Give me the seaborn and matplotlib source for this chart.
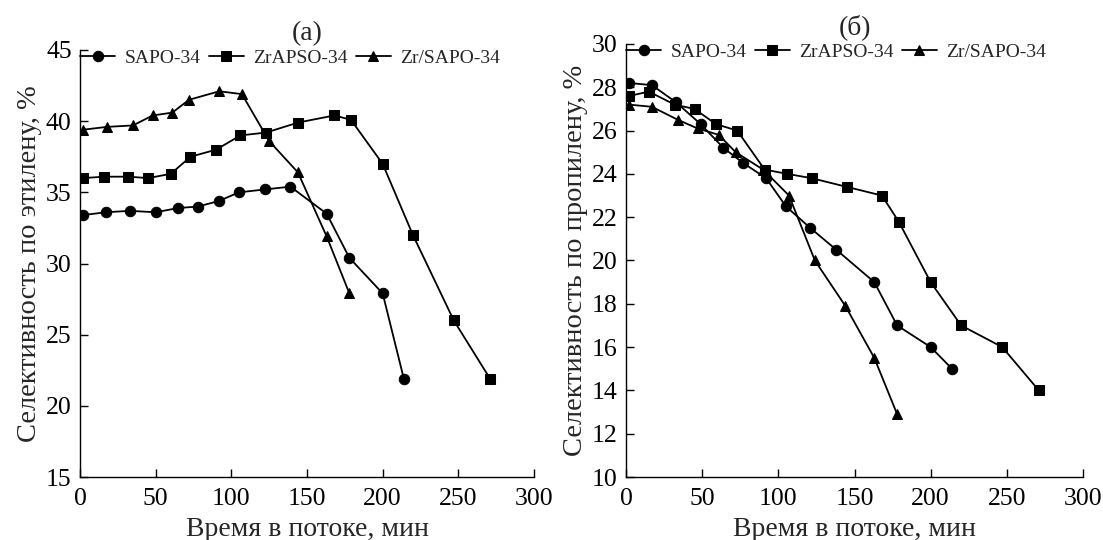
import pandas as pd
import numpy as np
import seaborn as sns
import matplotlib.pyplot as plt

# --- data ---
names = ["SAPO-34", "ZrAPSO-34", "Zr/SAPO-34"]

# (a) ethylene selectivity
a_sapo_t = [2, 17, 33, 50, 65, 78, 92, 105, 122, 139, 163, 178, 200, 214]
a_sapo_y = [33.4, 33.6, 33.7, 33.6, 33.9, 34.0, 34.4, 35.0, 35.2, 35.4, 33.5, 30.4, 27.9, 21.9]
a_zrapso_t = [2, 16, 32, 45, 60, 73, 90, 106, 123, 144, 168, 179, 200, 220, 247, 271]
a_zrapso_y = [36.0, 36.1, 36.1, 36.0, 36.3, 37.5, 38.0, 39.0, 39.2, 39.9, 40.4, 40.1, 37.0, 32.0, 26.0, 21.9]
a_zrsapo_t = [2, 18, 35, 48, 61, 72, 92, 107, 125, 144, 163, 178]
a_zrsapo_y = [39.4, 39.6, 39.7, 40.4, 40.6, 41.5, 42.1, 41.9, 38.6, 36.4, 31.9, 27.9]

# (б) propylene selectivity
b_sapo_t = [2, 17, 33, 49, 64, 77, 92, 105, 121, 138, 163, 178, 200, 214]
b_sapo_y = [28.2, 28.1, 27.3, 26.3, 25.2, 24.5, 23.8, 22.5, 21.5, 20.5, 19.0, 17.0, 16.0, 15.0]
b_zrapso_t = [2, 15, 32, 45, 59, 73, 91, 106, 122, 145, 168, 179, 200, 220, 247, 271]
b_zrapso_y = [27.6, 27.8, 27.2, 27.0, 26.3, 26.0, 24.2, 24.0, 23.8, 23.4, 23.0, 21.8, 19.0, 17.0, 16.0, 14.0]
b_zrsapo_t = [2, 17, 34, 47, 61, 72, 90, 107, 124, 144, 163, 178]
b_zrsapo_y = [27.2, 27.1, 26.5, 26.1, 25.8, 25.0, 24.2, 23.0, 20.0, 17.9, 15.5, 12.9]


def make_df(series):
    frames = []
    for name, (t, y) in zip(names, series):
        frames.append(pd.DataFrame({"t": t, "y": y, "cat": name}))
    return pd.concat(frames, ignore_index=True)


df_a = make_df([(a_sapo_t, a_sapo_y), (a_zrapso_t, a_zrapso_y), (a_zrsapo_t, a_zrsapo_y)])
df_b = make_df([(b_sapo_t, b_sapo_y), (b_zrapso_t, b_zrapso_y), (b_zrsapo_t, b_zrsapo_y)])

sns.set_theme(style="ticks")
plt.rcParams["font.family"] = ["Liberation Serif", "DejaVu Serif"]
plt.rcParams["xtick.direction"] = "in"
plt.rcParams["ytick.direction"] = "in"

W, H = 1103, 540
fig = plt.figure(figsize=(W / 100, H / 100), dpi=100)
# axes boxes in pixels (left, right, top, bottom)
ax_a = fig.add_axes([80 / W, 1 - 477 / H, 454 / W, 427 / H])
ax_b = fig.add_axes([626 / W, 1 - 477 / H, 457 / W, 433 / H])


def draw(ax, df, ylim, yticks, ylabel, title):
    sns.lineplot(data=df, x="t", y="y", hue="cat", style="cat",
                 markers=["o", "s", "^"], dashes=False, sort=False,
                 palette=["black"] * 3, markersize=7.5, linewidth=1.3,
                 markeredgecolor="black", ax=ax)
    ax.set_xlim(0, 300)
    ax.set_ylim(*ylim)
    ax.set_xticks(np.arange(0, 301, 50))
    ax.set_yticks(yticks)
    ax.tick_params(labelsize=18.5, length=6, width=1, colors="black", pad=6)
    ax.tick_params(axis="x", pad=8)
    ax.set_xlabel("Время в потоке, мин", fontsize=20, labelpad=5)
    ax.set_ylabel(ylabel, fontsize=20.5, labelpad=3)
    ax.set_title(title, fontsize=20, pad=7)
    sns.despine(ax=ax)
    for s in ["left", "bottom"]:
        ax.spines[s].set_linewidth(1.0)
        ax.spines[s].set_color("black")
    ax.legend(loc="center left", ncol=3, frameon=False, fontsize=14,
              handlelength=1.8, columnspacing=0.4, handletextpad=0.5,
              borderaxespad=0.0, borderpad=0.0,
              bbox_to_anchor=(0.0, 1 - 8 / 427), title=None)


draw(ax_a, df_a, (15, 45), np.arange(15, 46, 5), "Селективность по этилену, %", "(a)")
draw(ax_b, df_b, (10, 30), np.arange(10, 31, 2), "Селективность по пропилену, %", "(б)")

fig.savefig("out.png", dpi=100)
